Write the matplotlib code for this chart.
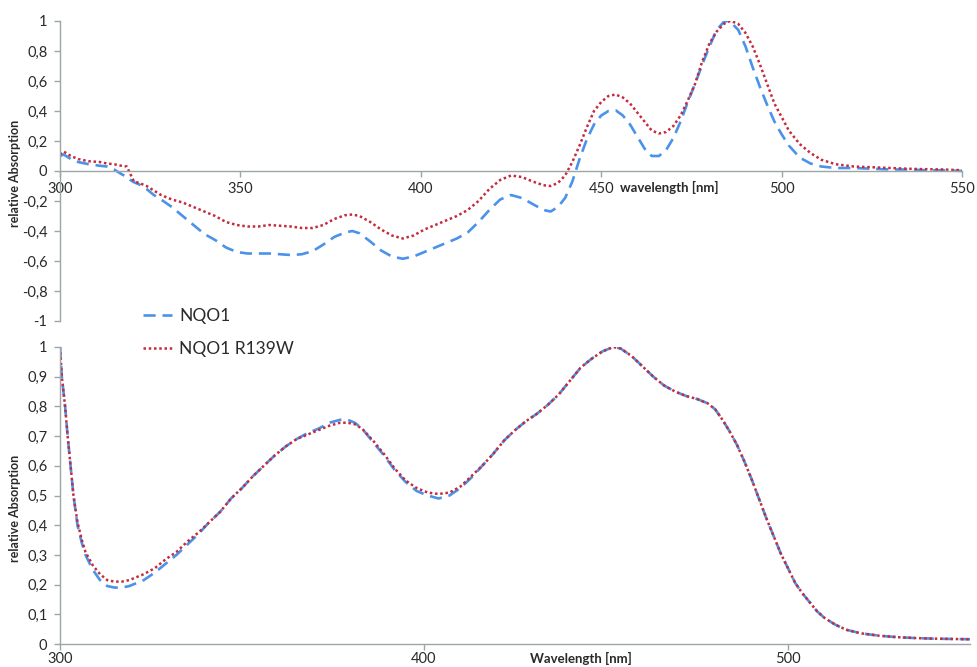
import matplotlib
matplotlib.use("Agg")
import matplotlib.pyplot as plt
from matplotlib.ticker import FixedLocator, FuncFormatter

plt.rcParams['font.family'] = ['Lato', 'DejaVu Sans']

# ---- difference spectra (upper panel) ----
diff_wavelength = [300, 301, 303, 305, 308, 311, 313, 315, 317, 318.5, 319.5, 320.5, 322, 324,
                   326, 328, 331, 334, 337, 340, 343, 346, 349, 352, 355, 358, 361, 364, 367,
                   370, 373, 376, 379, 381, 383, 386, 389, 392, 395, 398, 401, 404, 407, 410,
                   413, 416, 419, 422, 425, 428, 431, 434, 436, 438, 440, 442, 444, 446, 448,
                   450, 452, 454, 456, 458, 460, 462, 464, 466, 468, 470, 472, 474, 476, 478,
                   480, 482, 484, 485, 486, 488, 490, 492, 494, 496, 498, 500, 502, 505, 508,
                   511, 515, 520, 525, 530, 535, 540, 545, 550]
diff_nqo1 = [0.10, 0.11, 0.08, 0.06, 0.045, 0.035, 0.03, 0.01, -0.02, -0.04, -0.06, -0.075, -0.09, -0.12,
             -0.16, -0.19, -0.24, -0.30, -0.36, -0.42, -0.46, -0.51, -0.54, -0.55, -0.55, -0.55, -0.555, -0.56, -0.555,
             -0.535, -0.49, -0.44, -0.41, -0.40, -0.415, -0.47, -0.53, -0.57, -0.585, -0.57, -0.54, -0.51, -0.48, -0.45,
             -0.41, -0.34, -0.26, -0.19, -0.16, -0.18, -0.22, -0.26, -0.27, -0.24, -0.18, -0.07, 0.08, 0.21, 0.31,
             0.37, 0.40, 0.405, 0.37, 0.31, 0.23, 0.15, 0.10, 0.10, 0.14, 0.22, 0.33, 0.46, 0.58, 0.71,
             0.83, 0.94, 0.995, 1.0, 0.99, 0.94, 0.83, 0.69, 0.56, 0.44, 0.33, 0.245, 0.17, 0.09, 0.05,
             0.03, 0.02, 0.02, 0.015, 0.01, 0.01, 0.005, 0.005, 0.0]
diff_r139w = [0.11, 0.13, 0.10, 0.08, 0.065, 0.06, 0.05, 0.045, 0.035, 0.03, -0.02, -0.07, -0.08, -0.10,
              -0.13, -0.16, -0.19, -0.21, -0.24, -0.27, -0.30, -0.34, -0.36, -0.37, -0.37, -0.36, -0.365, -0.37, -0.38,
              -0.38, -0.36, -0.32, -0.295, -0.29, -0.30, -0.34, -0.39, -0.43, -0.45, -0.43, -0.39, -0.36, -0.33, -0.30,
              -0.26, -0.20, -0.12, -0.06, -0.03, -0.04, -0.07, -0.095, -0.10, -0.08, -0.03, 0.06, 0.17, 0.29, 0.40,
              0.46, 0.50, 0.51, 0.49, 0.45, 0.39, 0.33, 0.27, 0.25, 0.26, 0.30, 0.37, 0.47, 0.58, 0.73,
              0.85, 0.93, 0.98, 0.995, 1.0, 0.98, 0.92, 0.83, 0.71, 0.58, 0.45, 0.36, 0.27, 0.18, 0.12,
              0.075, 0.045, 0.03, 0.025, 0.02, 0.015, 0.012, 0.01, 0.005]

# ---- absorption spectra (lower panel) ----
abs_wavelength = [300, 300.5, 301.4, 302.1, 302.9, 303.7, 304.8, 306, 307, 309, 311, 313, 315, 317,
                  319, 321, 323, 326, 329, 332, 335, 338, 341, 344, 347, 350, 353, 356, 359,
                  362, 365, 368, 371, 374, 377, 379, 381, 383, 386, 389, 392, 395, 398, 401,
                  404, 407, 410, 413, 416, 419, 422, 425, 428, 431, 434, 437, 440, 443, 446,
                  449, 452, 454, 457, 460, 463, 466, 469, 472, 475, 478, 480, 482, 484, 486,
                  488, 490, 492, 494, 496, 498, 500, 502, 504, 506, 508, 510, 513, 516, 520,
                  525, 530, 535, 540, 545, 550]
abs_nqo1 = [1.0, 0.9, 0.8, 0.7, 0.6, 0.5, 0.4, 0.34, 0.30, 0.25, 0.215, 0.195, 0.19, 0.19,
            0.195, 0.205, 0.215, 0.24, 0.27, 0.30, 0.335, 0.37, 0.41, 0.445, 0.49, 0.525, 0.565, 0.60, 0.635,
            0.665, 0.69, 0.71, 0.725, 0.745, 0.755, 0.755, 0.745, 0.725, 0.68, 0.635, 0.585, 0.545, 0.515, 0.50,
            0.49, 0.50, 0.525, 0.56, 0.60, 0.64, 0.685, 0.72, 0.75, 0.775, 0.805, 0.84, 0.885, 0.93, 0.96,
            0.985, 1.0, 0.995, 0.97, 0.935, 0.90, 0.87, 0.85, 0.835, 0.825, 0.81, 0.79, 0.755, 0.715, 0.67,
            0.615, 0.555, 0.49, 0.425, 0.365, 0.305, 0.255, 0.205, 0.17, 0.14, 0.11, 0.088, 0.065, 0.048, 0.036,
            0.028, 0.023, 0.02, 0.018, 0.017, 0.016]
abs_r139w = [1.0, 0.9, 0.8, 0.7, 0.6, 0.5, 0.41, 0.35, 0.31, 0.265, 0.235, 0.215, 0.21, 0.21,
             0.215, 0.225, 0.235, 0.255, 0.285, 0.31, 0.345, 0.375, 0.41, 0.445, 0.49, 0.525, 0.565, 0.60, 0.635,
             0.665, 0.69, 0.705, 0.72, 0.735, 0.745, 0.745, 0.74, 0.725, 0.685, 0.64, 0.59, 0.55, 0.525, 0.51,
             0.505, 0.51, 0.53, 0.565, 0.60, 0.64, 0.685, 0.72, 0.75, 0.775, 0.805, 0.84, 0.885, 0.93, 0.96,
             0.985, 1.0, 0.995, 0.97, 0.935, 0.90, 0.87, 0.85, 0.835, 0.825, 0.81, 0.79, 0.755, 0.715, 0.67,
             0.615, 0.555, 0.49, 0.425, 0.365, 0.305, 0.255, 0.205, 0.17, 0.14, 0.11, 0.088, 0.065, 0.048, 0.036,
             0.028, 0.023, 0.02, 0.018, 0.017, 0.016]

series_labels = ["NQO1", "NQO1 R139W"]
diff_xticks = [300, 350, 400, 450, 500, 550]
diff_yticks = [-1, -0.8, -0.6, -0.4, -0.2, 0, 0.2, 0.4, 0.6, 0.8, 1]
abs_xticks = [300, 400, 500]
abs_yticks = [0, 0.1, 0.2, 0.3, 0.4, 0.5, 0.6, 0.7, 0.8, 0.9, 1]

BLUE = '#4a92ea'
RED = '#c42b3c'
AXIS = '#9da6a6'
TEXT = '#2a2a2a'

W, H = 978, 667
fig = plt.figure(figsize=(W / 100, H / 100), dpi=100)


def px_axes(left, top, right, bottom):
    return fig.add_axes([left / W, 1 - bottom / H, (right - left) / W, (bottom - top) / H])


def comma(v, _pos=None):
    return f"{v:g}".replace('.', ',')


def style_axes(ax):
    for side in ('top', 'right'):
        ax.spines[side].set_visible(False)
    for side in ('left', 'bottom'):
        ax.spines[side].set_color(AXIS)
        ax.spines[side].set_linewidth(1.0)
    ax.tick_params(axis='both', colors=AXIS, labelcolor=TEXT, labelsize=10.5,
                   length=4, width=1.0, direction='out')
    ax.tick_params(axis='y', pad=5)
    ax.yaxis.set_major_formatter(FuncFormatter(comma))
    ax.xaxis.set_major_formatter(FuncFormatter(lambda v, p: f"{v:.0f}"))


def draw_series(ax, x, y1, y2):
    l1, = ax.plot(x, y1, color=BLUE, lw=1.9, linestyle=(0, (4.6, 2.6)), label=series_labels[0])
    l2, = ax.plot(x, y2, color=RED, lw=1.8, linestyle=(0, (1, 1.1)), label=series_labels[1])
    return l1, l2


# upper panel: difference spectra
ax1 = px_axes(60, 21, 962, 321)
h1, h2 = draw_series(ax1, diff_wavelength, diff_nqo1, diff_r139w)
ax1.set_xlim(300, 550)
ax1.set_ylim(-1, 1)
style_axes(ax1)
ax1.spines['bottom'].set_position(('data', 0))
ax1.xaxis.set_major_locator(FixedLocator(diff_xticks))
ax1.yaxis.set_major_locator(FixedLocator(diff_yticks))
ax1.tick_params(axis='x', pad=4)
ax1.text(469, -0.11, "wavelength [nm]", fontsize=9.5, fontweight='bold', color=TEXT,
         ha='center', va='center')

# lower panel: absorption spectra
ax2 = px_axes(60, 347, 970, 644)
draw_series(ax2, abs_wavelength, abs_nqo1, abs_r139w)
ax2.set_xlim(300, 550)
ax2.set_ylim(0, 1)
style_axes(ax2)
ax2.xaxis.set_major_locator(FixedLocator(abs_xticks))
ax2.yaxis.set_major_locator(FixedLocator(abs_yticks))
ax2.tick_params(axis='x', pad=2)
ax2.text(0.5945, 1 - 658 / H, "Wavelength [nm]", transform=fig.transFigure, fontsize=9.5,
         fontweight='bold', color=TEXT, ha='center', va='center')

# y-axis titles
fig.text(15 / W, 1 - 173 / H, "relative Absorption", rotation=90, fontsize=9,
         fontweight='bold', color=TEXT, ha='center', va='center')
fig.text(15 / W, 1 - 508 / H, "relative Absorption", rotation=90, fontsize=9,
         fontweight='bold', color=TEXT, ha='center', va='center')

# shared legend between the panels
fig.legend(handles=[h1, h2], loc='upper left', bbox_to_anchor=(143 / W, 1 - 308 / H),
           frameon=False, fontsize=12.5, borderpad=0, borderaxespad=0,
           handlelength=1.65, handletextpad=0.45, labelspacing=1.0, labelcolor=TEXT)

fig.savefig("out.png", dpi=100)
